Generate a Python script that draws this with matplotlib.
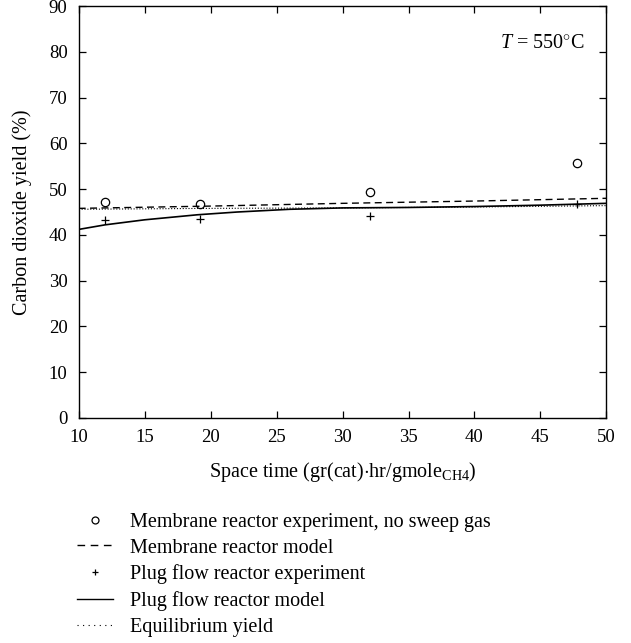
import numpy as np
import matplotlib
matplotlib.use("Agg")
from matplotlib import pyplot as plt
from matplotlib.lines import Line2D

plt.rcParams['font.family'] = ['Liberation Serif', 'DejaVu Serif']
plt.rcParams['mathtext.fontset'] = 'custom'
plt.rcParams['mathtext.rm'] = 'Liberation Serif'
plt.rcParams['mathtext.it'] = 'Liberation Serif:italic'

#-----------------------------------------------------------------------------------#
## data
mr_exp_x = [12.0, 19.2, 32.1, 47.8]
mr_exp_y = [47.2, 46.8, 49.3, 55.7]

pf_exp_x = [12.0, 19.2, 32.1, 47.8]
pf_exp_y = [43.3, 43.4, 44.2, 46.8]

mr_model_x = [10, 20, 30, 40, 50]
mr_model_y = [45.8, 46.3, 46.9, 47.4, 48.0]

pf_model_x = [10, 12, 15, 19, 22, 26, 30, 35, 40, 45, 50]
pf_model_y = [41.2, 42.2, 43.3, 44.4, 45.0, 45.6, 45.9, 46.0, 46.2, 46.5, 46.9]

eq_x = [10, 20, 30, 40, 50]
eq_y = [45.6, 45.8, 45.9, 46.1, 46.4]

x_ticks = np.arange(10, 51, 5)
y_ticks = np.arange(0, 91, 10)

labels = ["Membrane reactor experiment, no sweep gas",
          "Membrane reactor model",
          "Plug flow reactor experiment",
          "Plug flow reactor model",
          "Equilibrium yield"]

FS = 14.5

#-----------------------------------------------------------------------------------#
## plot
fig = plt.figure(figsize=(6.31, 6.43), dpi=100)
ax = fig.add_axes([0.1247, 0.35, 0.961 - 0.1247, 0.9905 - 0.35])

ax.plot(mr_exp_x, mr_exp_y, linestyle='none', marker='o', markersize=6,
        markerfacecolor='none', markeredgecolor='black', markeredgewidth=0.9)
ax.plot(mr_model_x, mr_model_y, color='black', linewidth=1.0, linestyle=(0, (5, 3.2)))
ax.plot(pf_exp_x, pf_exp_y, linestyle='none', marker='+', markersize=6,
        color='black', markeredgewidth=0.9)
ax.plot(pf_model_x, pf_model_y, color='black', linewidth=1.2)
ax.plot(eq_x, eq_y, color='black', linewidth=0.8, linestyle=(0, (1, 1.6)))

ax.set_xlim(10, 50)
ax.set_ylim(0, 90)
ax.set_xticks(x_ticks)
ax.set_yticks(y_ticks)
ax.tick_params(direction='in', top=True, right=True, length=5, width=0.9,
               labelsize=13.5, pad=8)
for s in ax.spines.values():
    s.set_linewidth(1.0)

ax.set_xlabel(r"Space time (gr(cat)$\cdot$hr/gmole$_{\mathrm{CH4}}$)", fontsize=FS, labelpad=10)
ax.set_ylabel("Carbon dioxide yield (%)", fontsize=FS, labelpad=12)

ax.text(0.96, 0.91, r"$T$ = 550$^{\circ}$C", transform=ax.transAxes,
        ha='right', va='center', fontsize=FS)

#-----------------------------------------------------------------------------------#
## legend below the axes
handles = [
    Line2D([], [], linestyle='none', marker='o', markersize=5,
           markerfacecolor='none', markeredgecolor='black', markeredgewidth=0.9),
    Line2D([], [], color='black', linewidth=1.0, linestyle=(0, (5.5, 4))),
    Line2D([], [], linestyle='none', marker='+', markersize=5,
           color='black', markeredgewidth=0.9),
    Line2D([], [], color='black', linewidth=1.0),
    Line2D([], [], color='black', linewidth=0.8, linestyle=(0, (1, 4))),
]
fig.legend(handles, labels, loc='upper left', bbox_to_anchor=(0.122, 0.203),
           frameon=False, fontsize=FS, handlelength=1.8, handletextpad=0.85,
           labelspacing=0.34, borderpad=0, borderaxespad=0)

fig.savefig("out.png", dpi=100)
